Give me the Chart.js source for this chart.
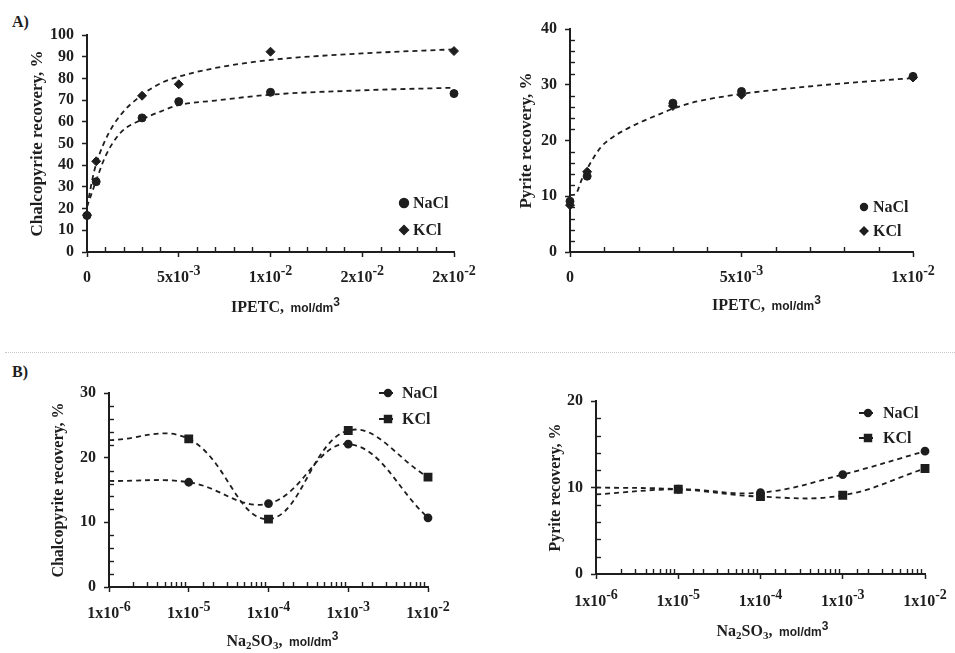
<!DOCTYPE html>
<html>
<head>
<meta charset="utf-8">
<script src="https://cdn.jsdelivr.net/npm/chart.js@4.4.0/dist/chart.umd.min.js"></script>
<style>
  body { margin: 0; width: 955px; height: 653px; background: #fff; position: relative; overflow: hidden; }
  canvas { position: absolute; }
  .tag { position: absolute; font: bold 16px "Liberation Serif", serif; color: #1e1e1e; }
  .sep { position: absolute; left: 5px; right: 0; top: 352px; border-top: 1px dotted #c8c8c8; }
</style>
</head>
<body>
<div class="tag" style="left:12px;top:13px">A)</div>
<div class="tag" style="left:12px;top:363px">B)</div>
<div class="sep"></div>
<canvas id="chalcoIpetc" width="478" height="330" style="left:0;top:0"></canvas>
<canvas id="pyriteIpetc" width="477" height="330" style="left:478px;top:0"></canvas>
<canvas id="chalcoSulfite" width="478" height="313" style="left:0;top:340px"></canvas>
<canvas id="pyriteSulfite" width="477" height="313" style="left:478px;top:340px"></canvas>
<script>
// A) IPETC dosage, mol/dm3
let ipetcConc = [0, 0.0005, 0.003, 0.005, 0.01, 0.02];
let chalcoIpetcNaCl = [16.8, 32.4, 61.8, 69.3, 73.6, 73.0];
let chalcoIpetcKCl = [17.0, 41.8, 72.0, 77.3, 92.3, 92.6];
// dashed trend lines
let chalcoFitConc = [0, 0.0004, 0.001, 0.0018, 0.003, 0.004, 0.005, 0.007, 0.01, 0.015, 0.02];
let chalcoFitNaCl = [20.9, 30.5, 44.0, 54.7, 61.1, 64.7, 67.7, 69.8, 72.5, 74.5, 75.7];
let chalcoFitKCl = [20.9, 37.5, 51.6, 62.8, 72.4, 77.7, 80.8, 84.8, 88.5, 91.5, 93.4];

let pyriteConc = [0, 0.0005, 0.003, 0.005, 0.01];
let pyriteIpetcNaCl = [9.1, 13.6, 26.7, 28.8, 31.5];
let pyriteIpetcKCl = [8.4, 14.4, 26.2, 28.2, 31.3];
let pyriteFitConc = [0, 0.00015, 0.00035, 0.0006, 0.0009, 0.0012, 0.0016, 0.0021, 0.0026, 0.003, 0.0037, 0.0045, 0.0053, 0.0075, 0.01];
let pyriteFit = [10.2, 10.3, 13.1, 16.0, 18.8, 20.4, 21.9, 23.4, 24.7, 25.7, 27.0, 27.9, 28.6, 30.0, 31.2];

// B) Na2SO3 dosage, mol/dm3
let sulfiteConc = [1e-6, 1e-5, 1e-4, 1e-3, 1e-2];
let chalcoSulfiteNaCl = [16.4, 16.2, 12.9, 22.1, 10.7];
let chalcoSulfiteKCl = [22.7, 22.9, 10.5, 24.2, 17.0];
let pyriteSulfiteNaCl = [9.2, 9.8, 9.4, 11.5, 14.2];
let pyriteSulfiteKCl = [10.0, 9.8, 8.95, 9.1, 12.2];

// x tick labels: [base, exponent]
let chalcoIpetcTicks = [['0', ''], ['5x10', '-3'], ['1x10', '-2'], ['2x10', '-2'], ['2x10', '-2']];
let pyriteIpetcTicks = [['0', ''], ['5x10', '-3'], ['1x10', '-2']];
let sulfiteTicks = [['1x10', '-6'], ['1x10', '-5'], ['1x10', '-4'], ['1x10', '-3'], ['1x10', '-2']];

const INK = '#1e1e1e';
const SERIF = '"Liberation Serif", "Times New Roman", serif';
const TICK_FONT = 'bold 16px ' + SERIF;
const SUP_FONT = 'bold 14px ' + SERIF;
const SUB_FONT = 'bold 11px ' + SERIF;
const SANS = 'bold 12px "Liberation Sans", Arial, sans-serif';

const ipetcTitle = [{t: 'IPETC,', f: 'bold 16px ' + SERIF}, {t: '  mol/dm', f: SANS}, {t: '3', f: SANS, dy: -6}];
const sulfiteTitle = [
  {t: 'Na', f: 'bold 16px ' + SERIF}, {t: '2', f: SUB_FONT, dy: 3},
  {t: 'SO', f: 'bold 16px ' + SERIF}, {t: '3', f: SUB_FONT, dy: 3},
  {t: ',', f: 'bold 16px ' + SERIF}, {t: '  mol/dm', f: SANS}, {t: '3', f: SANS, dy: -6}
];

function pts(xs, ys) {
  return xs.map((x, i) => ({x: x, y: ys[i]}));
}
function every(step) {
  return v => Math.abs(v / step - Math.round(v / step)) < 1e-6;
}
function decade(v) {
  let l = Math.log10(v);
  return Math.abs(l - Math.round(l)) < 1e-6;
}

function drawRich(ctx, parts, cx, y) {
  let w = 0;
  parts.forEach(p => { ctx.font = p.f; w += ctx.measureText(p.t).width; });
  let x = cx - w / 2;
  parts.forEach(p => {
    ctx.font = p.f;
    ctx.fillText(p.t, x, y + (p.dy || 0));
    x += ctx.measureText(p.t).width;
  });
}

// minor ticks inside, exponent tick labels, rich x title and legend
const extras = {
  id: 'extras',
  afterDraw(chart, args, o) {
    const ctx = chart.ctx, xs = chart.scales.x, ys = chart.scales.y;
    ctx.save();
    ctx.strokeStyle = INK;
    ctx.fillStyle = INK;
    ctx.lineWidth = 1.4;
    xs.ticks.forEach(t => {
      if (o.xMajor(t.value)) return;
      let p = Math.round(xs.getPixelForValue(t.value)) + 0.5;
      ctx.beginPath(); ctx.moveTo(p, xs.top); ctx.lineTo(p, xs.top - 5); ctx.stroke();
    });
    ys.ticks.forEach(t => {
      if (o.yMajor(t.value)) return;
      let p = Math.round(ys.getPixelForValue(t.value)) + 0.5;
      ctx.beginPath(); ctx.moveTo(ys.right, p); ctx.lineTo(ys.right + 5, p); ctx.stroke();
    });

    ctx.textBaseline = 'alphabetic';
    let k = 0;
    xs.ticks.forEach(t => {
      if (!o.xMajor(t.value)) return;
      let lab = o.xLabels[k++];
      if (!lab) return;
      drawRich(ctx, [{t: lab[0], f: TICK_FONT}, {t: lab[1], f: SUP_FONT, dy: -7}],
        xs.getPixelForValue(t.value), xs.top + o.labelDy);
    });
    let ca = chart.chartArea;
    drawRich(ctx, o.xTitle, (ca.left + ca.right) / 2 + o.titleDx, xs.top + o.titleDy);

    const lg = o.legend;
    lg.items.forEach((it, i) => {
      const ds = chart.data.datasets[it.ds];
      let y = lg.y + i * lg.dy;
      if (lg.line) {
        ctx.save();
        ctx.lineWidth = 1.8;
        ctx.setLineDash([5, 4]);
        ctx.beginPath(); ctx.moveTo(lg.x - 9, y); ctx.lineTo(lg.x + 9, y); ctx.stroke();
        ctx.restore();
      }
      Chart.helpers.drawPoint(ctx, {pointStyle: ds.pointStyle, radius: it.r, rotation: 0, borderWidth: 1}, lg.x, y);
      ctx.font = 'bold 16px ' + SERIF;
      ctx.textBaseline = 'middle';
      ctx.fillText(ds.label, lg.tx, y + 1);
    });
    ctx.restore();
  }
};

function buildChart(id, c) {
  return new Chart(document.getElementById(id), {
    type: 'scatter',
    data: {datasets: c.datasets},
    options: {
      responsive: false,
      animation: false,
      devicePixelRatio: 1,
      layout: {padding: c.pad},
      plugins: {legend: {display: false}, tooltip: {enabled: false}, extras: c.extras},
      scales: {
        x: {
          type: c.xType,
          min: c.xMin,
          max: c.xMax,
          afterFit: s => { s.height = c.xHeight; },
          border: {color: INK, width: 2},
          grid: {
            drawOnChartArea: false, tickLength: 5, tickWidth: 1.5,
            tickColor: ctx => (ctx.tick && c.extras.xMajor(ctx.tick.value)) ? INK : 'rgba(0,0,0,0)'
          },
          ticks: {stepSize: c.xStep, autoSkip: false, maxRotation: 0, callback: () => ''}
        },
        y: {
          min: c.yMin,
          max: c.yMax,
          afterFit: s => { s.width = c.yWidth; },
          border: {color: INK, width: 2},
          grid: {
            drawOnChartArea: false, tickLength: 5, tickWidth: 1.5,
            tickColor: ctx => (ctx.tick && c.extras.yMajor(ctx.tick.value)) ? INK : 'rgba(0,0,0,0)'
          },
          ticks: {
            stepSize: c.yStep, autoSkip: false, padding: 8, color: INK,
            font: {family: 'Liberation Serif', size: 16, weight: 'bold'},
            callback: v => c.extras.yMajor(v) ? String(v) : ''
          },
          title: {
            display: true, text: c.yTitle, color: INK, padding: {top: 0, bottom: 0},
            font: {family: 'Liberation Serif', size: c.yTitleSize, weight: 'bold'}
          }
        }
      }
    },
    plugins: [extras]
  });
}

function markers(label, xs, ys, style, r) {
  return {label: label, data: pts(xs, ys), showLine: false, pointStyle: style, pointRadius: r,
    backgroundColor: INK, borderColor: INK, borderWidth: 1, clip: false, order: 0};
}
function fitLine(label, xs, ys) {
  return {label: label, data: pts(xs, ys), showLine: true, pointRadius: 0, borderColor: INK,
    borderWidth: 1.8, borderDash: [5, 4], cubicInterpolationMode: 'monotone', clip: false, order: 1};
}
function smoothSeries(label, xs, ys, style, r) {
  return {label: label, data: pts(xs, ys), showLine: true, pointStyle: style,
    pointRadius: ctx => ctx.dataIndex === 0 ? 0 : r,
    backgroundColor: INK, borderColor: INK, borderWidth: 1.8, borderDash: [5, 4],
    tension: 0.4, clip: false};
}

buildChart('chalcoIpetc', {
  datasets: [
    markers('NaCl', ipetcConc, chalcoIpetcNaCl, 'circle', 4),
    markers('KCl', ipetcConc, chalcoIpetcKCl, 'rectRot', 4.5),
    fitLine('NaCl fit', chalcoFitConc, chalcoFitNaCl),
    fitLine('KCl fit', chalcoFitConc, chalcoFitKCl)
  ],
  pad: {left: 27, top: 35, right: 24, bottom: 0},
  xType: 'linear', xMin: 0, xMax: 0.02, xStep: 0.001, xHeight: 78,
  yMin: 0, yMax: 100, yStep: 10, yWidth: 60,
  yTitle: 'Chalcopyrite recovery, %', yTitleSize: 17,
  extras: {
    xMajor: every(0.005), yMajor: every(10), xLabels: chalcoIpetcTicks, labelDy: 30,
    xTitle: ipetcTitle, titleDx: 15, titleDy: 60,
    legend: {x: 404, tx: 413, y: 203, dy: 27, line: false, items: [{ds: 0, r: 4.5}, {ds: 1, r: 4.5}]}
  }
});

buildChart('pyriteIpetc', {
  datasets: [
    markers('NaCl', pyriteConc, pyriteIpetcNaCl, 'circle', 4),
    markers('KCl', pyriteConc, pyriteIpetcKCl, 'rectRot', 4.5),
    fitLine('fit', pyriteFitConc, pyriteFit)
  ],
  pad: {left: 38, top: 29, right: 42, bottom: 0},
  xType: 'linear', xMin: 0, xMax: 0.01, xStep: 0.001, xHeight: 78,
  yMin: 0, yMax: 40, yStep: 2, yWidth: 54,
  yTitle: 'Pyrite recovery, %', yTitleSize: 17,
  extras: {
    xMajor: every(0.005), yMajor: every(10), xLabels: pyriteIpetcTicks, labelDy: 30,
    xTitle: ipetcTitle, titleDx: 25, titleDy: 58,
    legend: {x: 386, tx: 395, y: 207, dy: 24, line: false, items: [{ds: 0, r: 3.5}, {ds: 1, r: 4}]}
  }
});

buildChart('chalcoSulfite', {
  datasets: [
    smoothSeries('NaCl', sulfiteConc, chalcoSulfiteNaCl, 'circle', 3.5),
    smoothSeries('KCl', sulfiteConc, chalcoSulfiteKCl, 'rect', 5)
  ],
  pad: {left: 49, top: 53, right: 50, bottom: 0},
  xType: 'logarithmic', xMin: 1e-6, xMax: 1e-2, xHeight: 66,
  yMin: 0, yMax: 30, yStep: 2, yWidth: 60,
  yTitle: 'Chalcopyrite recovery, %', yTitleSize: 16,
  extras: {
    xMajor: decade, yMajor: every(10), xLabels: sulfiteTicks, labelDy: 31,
    xTitle: sulfiteTitle, titleDx: 14, titleDy: 59,
    legend: {x: 388, tx: 402, y: 53, dy: 26, line: true, items: [{ds: 0, r: 3.5}, {ds: 1, r: 5}]}
  }
});

buildChart('pyriteSulfite', {
  datasets: [
    smoothSeries('NaCl', sulfiteConc, pyriteSulfiteNaCl, 'circle', 3.5),
    smoothSeries('KCl', sulfiteConc, pyriteSulfiteKCl, 'rect', 5)
  ],
  pad: {left: 68, top: 61, right: 30, bottom: 0},
  xType: 'logarithmic', xMin: 1e-6, xMax: 1e-2, xHeight: 79,
  yMin: 0, yMax: 20, yStep: 2, yWidth: 50,
  yTitle: 'Pyrite recovery, %', yTitleSize: 16,
  extras: {
    xMajor: decade, yMajor: every(10), xLabels: sulfiteTicks, labelDy: 32,
    xTitle: sulfiteTitle, titleDx: 12, titleDy: 62,
    legend: {x: 390, tx: 405, y: 73, dy: 25, line: true, items: [{ds: 0, r: 3.5}, {ds: 1, r: 5}]}
  }
});
</script>
</body>
</html>
